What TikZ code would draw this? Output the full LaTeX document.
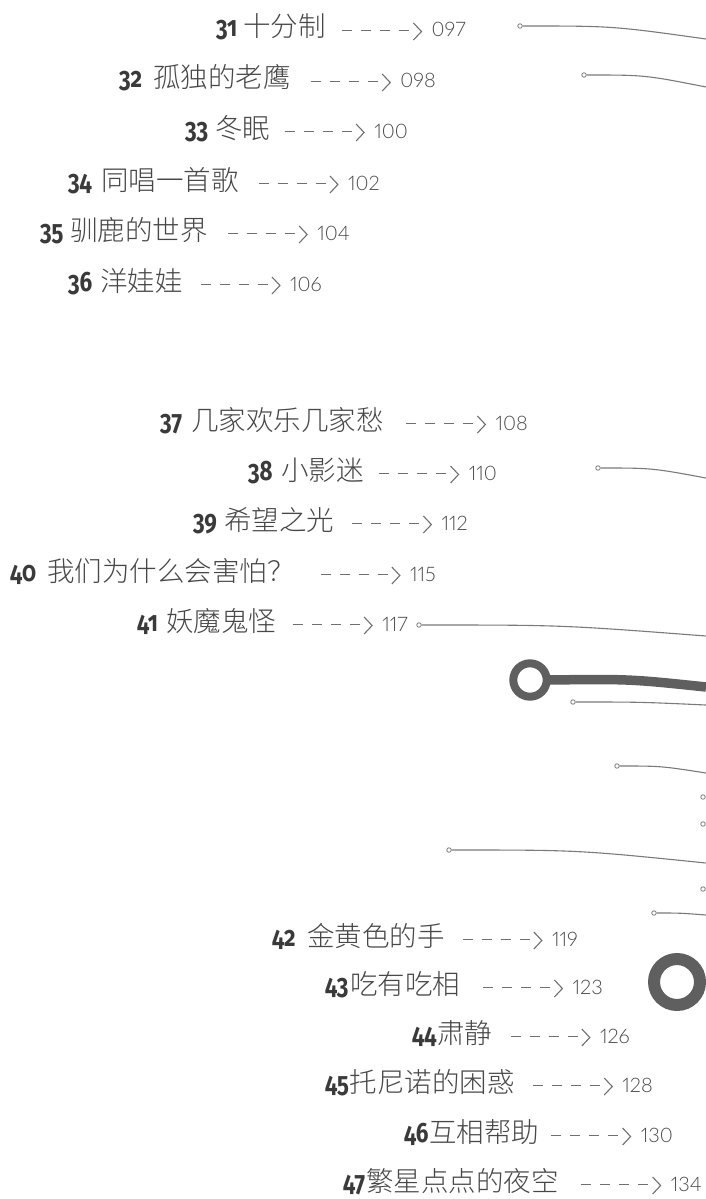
\documentclass[tikz,border=0pt]{standalone}
\usepackage{fontspec}
\newfontfamily\numf[Numbers=OldStyle,FakeStretch=0.8]{Fira Sans}
\newfontfamily\cjk[UprightFont={* Light}]{Noto Sans CJK SC}
\newfontfamily\pgnf[UprightFont={* Light},Numbers=Proportional]{Lato}
\definecolor{numc}{HTML}{3A3A3A}
\definecolor{titlec}{HTML}{474747}
\definecolor{pgc}{HTML}{484848}
\definecolor{dashc}{HTML}{707070}
\definecolor{linec}{HTML}{7A7A7A}
\definecolor{ringc}{HTML}{5F5F5F}
\newcommand\dashpiece{\rule[6pt]{10pt}{1.1pt}}
\newcommand\tocdash{\dashpiece\hspace{9pt}\dashpiece\hspace{9pt}\dashpiece\hspace{9pt}\dashpiece}
\tikzset{
  numtxt/.style={inner sep=0pt, text=numc, font=\numf\bfseries\fontsize{28}{28}\selectfont},
  titletxt/.style={inner sep=0pt, text=titlec, font=\cjk\fontsize{27.5}{27.5}\selectfont},
  pgtxt/.style={inner sep=0pt, text=pgc, font=\pgnf\fontsize{20}{20}\selectfont},
  dashtxt/.style={inner sep=0pt, text=dashc},
  chev/.style={draw=dashc, line width=1.1pt, line join=miter},
  lead/.style={draw=linec, line width=1.1pt},
  tipdot/.style={circle, draw=linec, fill=white, line width=0.8pt, minimum size=4.5pt, inner sep=0pt},
  ringnode/.style={circle, draw=ringc, inner sep=0pt}
}
% page number, dashes and chevron of a row
\newcommand\tocpage[4]{% #1 name, #2 right x, #3 baseline y, #4 page
  \node[pgtxt, anchor=base east] (#1p) at (#2,#3) {#4};
  \node[dashtxt, anchor=base east] (#1a) at ([xshift=-22pt]#1p.base west) {\tocdash};
  \draw[chev] ([shift={(4pt,14pt)}]#1a.base east) -- ++(8pt,-8.5pt) -- ++(-8pt,-8.5pt);
}
% #1 name, #2 number x, #3 title x, #4 baseline y, #5 number, #6 title, #7 right x, #8 page
\newcommand\tocrow[8]{%
  \node[numtxt, anchor=base west] (#1n) at (#2,#4) {#5};
  \node[titletxt, anchor=base west] (#1t) at (#3,#4) {#6};
  \tocpage{#1}{#7}{#4}{#8}
}
% rows whose title follows the number with no space: #3 unused position replaced by gap
\newcommand\tocrowtight[8]{%
  \node[numtxt, anchor=base west] (#1n) at (#2,#4) {#5};
  \node[titletxt, anchor=base west] (#1t) at ([xshift=#3pt]#1n.base east) {#6};
  \tocpage{#1}{#7}{#4}{#8}
}
\begin{document}
\begin{tikzpicture}[x=1pt,y=-1pt]
\fill[white] (0,0) rectangle (706,1199);
\useasboundingbox (0,0) rectangle (706,1199);

\tocrow{r31}{216}{243}{37}{31}{十分制}{466}{097}
\tocrow{r32}{119}{153}{88}{32}{孤独的老鹰}{436}{098}
\tocrow{r33}{185}{215}{138}{33}{冬眠}{408}{100}
\tocrow{r34}{68}{101}{190}{34}{同唱一首歌}{380}{102}
\tocrow{r35}{40}{70}{240}{35}{驯鹿的世界}{350}{104}
\tocrow{r36}{68}{100}{291}{36}{洋娃娃}{322}{106}
\tocrow{r37}{160}{191}{430}{37}{几家欢乐几家愁}{528}{108}
\tocrow{r38}{248}{281}{480}{38}{小影迷}{497}{110}
\tocrow{r39}{193}{224}{530}{39}{希望之光}{468}{112}
\tocrow{r40}{10}{47}{581}{40}{我们为什么会害怕？}{436}{115}
\tocrow{r41}{137}{166}{631}{41}{妖魔鬼怪}{408}{117}
\tocrow{r42}{272}{307}{946}{42}{金黄色的手}{578}{119}
\tocrow{r43}{325}{350}{994}{43}{吃有吃相}{603}{123}
\tocrowtight{r44}{412}{0.5}{1043}{44}{肃静}{630}{126}
\tocrowtight{r45}{325}{0.5}{1092}{45}{托尼诺的困惑}{653}{128}
\tocrowtight{r46}{404}{0.5}{1142}{46}{互相帮助}{673}{130}
\tocrowtight{r47}{343}{0.5}{1191}{47}{繁星点点的夜空}{702}{134}

% thin leader lines
\node[tipdot] (d1) at (520,26) {};
\coordinate (e1) at (706,39);
\draw[lead] (d1.east) .. controls (613,26) .. (e1);
\node[tipdot] (d2) at (584,75) {};
\coordinate (e2) at (706,87);
\draw[lead] (d2.east) .. controls (645,75) .. (e2);
\node[tipdot] (d3) at (598,468) {};
\coordinate (e3) at (706,478);
\draw[lead] (d3.east) .. controls (652,468) .. (e3);
\node[tipdot] (d4) at (419,625) {};
\coordinate (e4) at (706,636);
\draw[lead] (d4.east) .. controls (562,625) .. (e4);
\node[tipdot] (d5) at (573,702) {};
\coordinate (e5) at (706,705);
\draw[lead] (d5.east) .. controls (640,702) .. (e5);
\node[tipdot] (d6) at (617,766) {};
\coordinate (e6) at (706,773);
\draw[lead] (d6.east) .. controls (661,766) .. (e6);
\node[tipdot] (d7) at (703,797) {};
\coordinate (e7) at (706,797);
\draw[lead] (d7.east) -- (e7);
\node[tipdot] (d8) at (703,824) {};
\coordinate (e8) at (706,824);
\draw[lead] (d8.east) -- (e8);
\node[tipdot] (d9) at (449,850) {};
\coordinate (e9) at (706,863);
\draw[lead] (d9.east) .. controls (578,850) .. (e9);
\node[tipdot] (d10) at (703,889) {};
\coordinate (e10) at (706,889);
\draw[lead] (d10.east) -- (e10);
\node[tipdot] (d11) at (654,913) {};
\coordinate (e11) at (706,915);
\draw[lead] (d11.east) .. controls (680,913) .. (e11);

% rings
\node[ringnode, line width=8pt, minimum size=33.4pt] (ring1) at (530,680) {};
\coordinate (e12) at (706,687);
\draw[draw=ringc, line width=9.5pt] ([xshift=-3pt]ring1.east) .. controls (630,679) .. (e12);
\node[ringnode, line width=12pt, minimum size=46pt] (ring2) at (677,982) {};
\end{tikzpicture}
\end{document}
